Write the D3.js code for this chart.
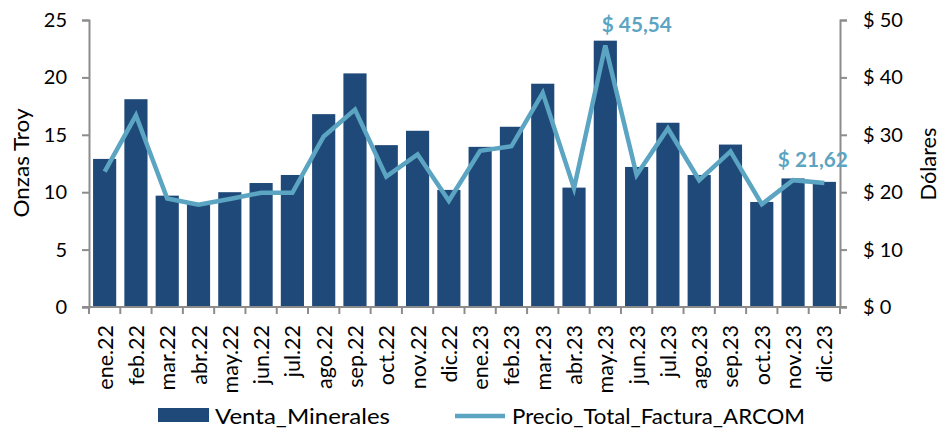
<!DOCTYPE html>
<html><head><meta charset="utf-8">
<script src="https://cdn.jsdelivr.net/npm/d3@7"></script>
<style>body{margin:0;background:#fff}svg{display:block}text{font-family:Lato,"Open Sans",sans-serif}</style>
</head><body><svg id="c" width="940" height="433"></svg>
<script>
const categories = ["ene.22","feb.22","mar.22","abr.22","may.22","jun.22","jul.22","ago.22","sep.22","oct.22","nov.22","dic.22","ene.23","feb.23","mar.23","abr.23","may.23","jun.23","jul.23","ago.23","sep.23","oct.23","nov.23","dic.23"];
const ventaMinerales = [12.9,18.1,9.7,9.0,10.0,10.8,11.5,16.8,20.35,14.1,15.35,10.2,13.95,15.7,19.45,10.4,23.2,12.2,16.05,11.5,14.15,9.15,11.2,10.9];
const precioFactura = [23.6,33.4,18.9,17.8,18.8,19.9,19.9,29.7,34.4,22.7,26.6,18.5,27.2,28.0,37.3,20.7,45.54,23.0,31.1,22.1,27.1,17.9,22.1,21.62];
const leftTicks = [0,5,10,15,20,25];
const rightTicks = [0,10,20,30,40,50];
const labelled = [{i:16, text:"$ 45,54"},{i:23, text:"$ 21,62"}];

const svg = d3.select("#c");
const m = {l:89, r:840, t:20, b:307};
const x = d3.scaleBand().domain(categories).range([m.l, m.r]).paddingInner(0.26).paddingOuter(0.13);
const yL = d3.scaleLinear().domain([0,25]).range([m.b, m.t]);
const yR = d3.scaleLinear().domain([0,50]).range([m.b, m.t]);
const axisCol = "#8c8c8c";
const barCol = "#1f4978";
const lineCol = "#5ba4c2";

// bars
svg.append("g").selectAll("rect").data(categories).join("rect")
  .attr("x", d => x(d)).attr("width", x.bandwidth())
  .attr("y", (d,i) => yL(ventaMinerales[i]))
  .attr("height", (d,i) => yL(0) - yL(ventaMinerales[i]))
  .attr("fill", barCol);

// line
const cx = i => x(categories[i]) + x.bandwidth()/2;
svg.append("path").datum(precioFactura)
  .attr("fill","none").attr("stroke", lineCol).attr("stroke-width", 4.5).attr("stroke-linejoin","miter")
  .attr("d", d3.line().x((d,i) => cx(i)).y(d => yR(d)));

// left axis
const gl = svg.append("g").attr("transform", `translate(${m.l},0)`)
  .call(d3.axisLeft(yL).tickValues(leftTicks).tickSize(7).tickPadding(15));
// right axis
const gr = svg.append("g").attr("transform", `translate(${m.r},0)`)
  .call(d3.axisRight(yR).tickValues(rightTicks).tickSize(7).tickPadding(16).tickFormat(d => "$ " + d));
[gl, gr].forEach(g => {
  g.select(".domain").attr("stroke", axisCol).attr("stroke-width", 2);
  g.selectAll(".tick line").attr("stroke", axisCol).attr("stroke-width", 2);
  g.selectAll(".tick text").attr("font-size", 20).attr("fill", "#000").attr("font-family","Lato");
});

// x axis
const gx = svg.append("g").attr("transform", `translate(0,${m.b})`);
gx.append("line").attr("x1", m.l - 7).attr("x2", m.r + 7).attr("stroke", axisCol).attr("stroke-width", 2);
gx.selectAll("line.t").data(d3.range(categories.length + 1)).join("line").attr("class","t")
  .attr("x1", i => m.l + i*(m.r-m.l)/categories.length)
  .attr("x2", i => m.l + i*(m.r-m.l)/categories.length)
  .attr("y1", 0).attr("y2", 7).attr("stroke", axisCol).attr("stroke-width", 2);
gx.selectAll("text").data(categories).join("text")
  .attr("transform", (d) => `translate(${x(d)+x.bandwidth()/2+8},18) rotate(-90)`)
  .attr("text-anchor","end").attr("font-size", 21.5).attr("fill","#000").text(d => d);

// axis titles
svg.append("text").attr("transform","translate(29,163) rotate(-90)").attr("text-anchor","middle")
  .attr("font-size",22).attr("textLength",109).attr("lengthAdjust","spacingAndGlyphs").text("Onzas Troy");
svg.append("text").attr("transform","translate(936,164) rotate(-90)").attr("text-anchor","middle")
  .attr("font-size",21).attr("textLength",73).attr("lengthAdjust","spacingAndGlyphs").text("Dólares");

// data labels
svg.selectAll("text.lbl").data(labelled).join("text").attr("class","lbl")
  .attr("x", d => cx(d.i) - (d.i===23 ? 46.5 : 3.5)).attr("y", d => yR(precioFactura[d.i]) - (d.i===23?16:14))
  .attr("font-size", 20.5).attr("font-weight","bold").attr("fill", lineCol)
  .attr("textLength",70).attr("lengthAdjust","spacingAndGlyphs").text(d => d.text);

// legend
const lg = svg.append("g");
lg.append("rect").attr("x",158).attr("y",408).attr("width",51).attr("height",14).attr("fill",barCol);
lg.append("text").attr("x",215).attr("y",424).attr("font-size",20.5).attr("textLength",175).attr("lengthAdjust","spacingAndGlyphs").text("Venta_Minerales");
lg.append("line").attr("x1",455).attr("x2",505).attr("y1",416).attr("y2",416).attr("stroke",lineCol).attr("stroke-width",4.5);
lg.append("text").attr("x",512).attr("y",424).attr("font-size",20.5).attr("textLength",293).attr("lengthAdjust","spacingAndGlyphs").text("Precio_Total_Factura_ARCOM");
</script></body></html>
